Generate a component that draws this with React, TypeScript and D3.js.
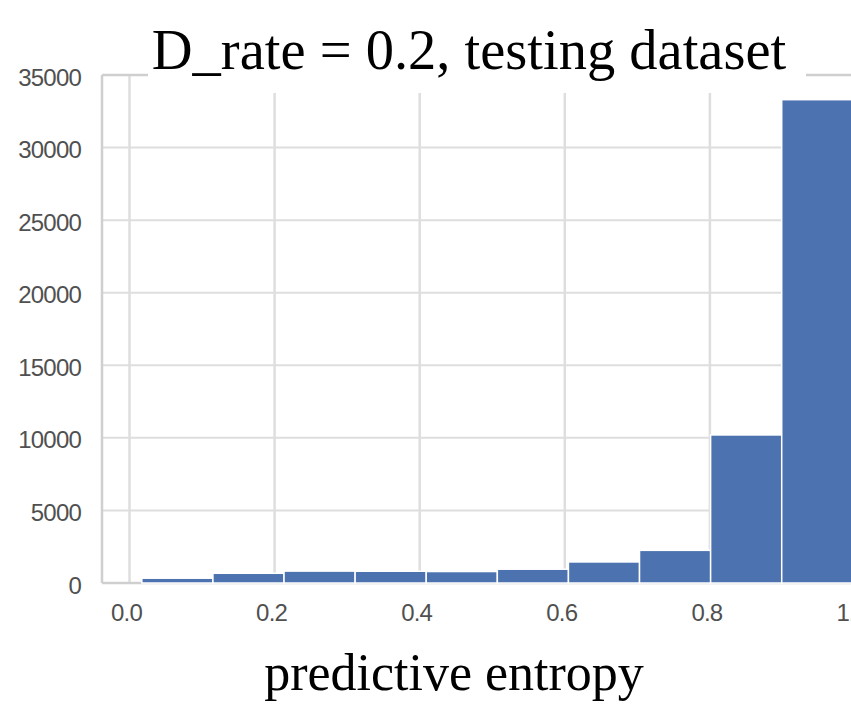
import React from "react";
import * as d3 from "d3";

const binEdges = [0.017, 0.115, 0.213, 0.311, 0.409, 0.507, 0.605, 0.703, 0.801, 0.899, 0.997];
const counts = [330, 670, 820, 810, 790, 950, 1450, 2250, 10200, 33300];
const yTicks = [0, 5000, 10000, 15000, 20000, 25000, 30000, 35000];
const xTicks = [0, 0.2, 0.4, 0.6, 0.8, 1.0];
const titleText = "D_rate = 0.2, testing dataset";
const xLabelText = "predictive entropy";

const W = 851;
const H = 713;

export default function App() {
  const x = d3.scaleLinear().domain([0, 1]).range([129.5, 855]);
  const y = d3.scaleLinear().domain([0, 35000]).range([583, 75]);
  const left = 102;
  const right = 900;
  const top = y(35000);
  const bottom = y(0);
  const gridColor = "#dedede";
  const spineColor = "#cfcfcf";
  const fmtX = d3.format(".1f");

  return (
    <svg
      width={W}
      height={H}
      style={{ position: "absolute", left: 0, top: 0, overflow: "hidden", background: "#fff" }}
    >
      <rect x={0} y={0} width={W} height={H} fill="#fff" />
      {yTicks.slice(1, -1).map((t) => (
        <line key={"hy" + t} x1={left} x2={right} y1={y(t)} y2={y(t)} stroke={gridColor} strokeWidth={2} />
      ))}
      {xTicks.map((t) => (
        <line key={"vx" + t} x1={x(t)} x2={x(t)} y1={top} y2={bottom} stroke={gridColor} strokeWidth={2.5} />
      ))}
      <line x1={left} x2={right} y1={top} y2={top} stroke={spineColor} strokeWidth={2.5} />
      <line x1={left} x2={right} y1={bottom} y2={bottom} stroke={spineColor} strokeWidth={2.5} />
      <line x1={left} x2={left} y1={top} y2={bottom} stroke={spineColor} strokeWidth={2.5} />
      {counts.map((c, i) => (
        <rect
          key={"b" + i}
          x={x(binEdges[i])}
          y={y(c)}
          width={x(binEdges[i + 1]) - x(binEdges[i])}
          height={y(0) - y(c)}
          fill="#4c72b0"
          stroke="#ffffff"
          strokeWidth={1.5}
        />
      ))}
      {yTicks.map((t) => (
        <text
          key={"yl" + t}
          x={81}
          y={y(t) + 2}
          textAnchor="end"
          dominantBaseline="central"
          fontFamily="Liberation Sans, Arial, sans-serif"
          fontSize={24}
          fill="#505050"
          letterSpacing={-0.8}
        >
          {t}
        </text>
      ))}
      {xTicks.map((t) => (
        <text
          key={"xl" + t}
          x={x(t) - 3}
          y={612}
          textAnchor="middle"
          dominantBaseline="central"
          fontFamily="Liberation Sans, Arial, sans-serif"
          fontSize={24}
          fill="#505050"
          letterSpacing={-0.8}
        >
          {fmtX(t)}
        </text>
      ))}
      <rect x={148} y={0} width={658} height={93} fill="#fff" />
      <text
        x={469}
        y={69}
        textAnchor="middle"
        fontFamily="Liberation Serif, Times New Roman, serif"
        fontSize={56.5}
        fill="#000"
      >
        {titleText}
      </text>
      <text
        x={454}
        y={690}
        textAnchor="middle"
        fontFamily="Liberation Serif, Times New Roman, serif"
        fontSize={52}
        fill="#000"
      >
        {xLabelText}
      </text>
    </svg>
  );
}
